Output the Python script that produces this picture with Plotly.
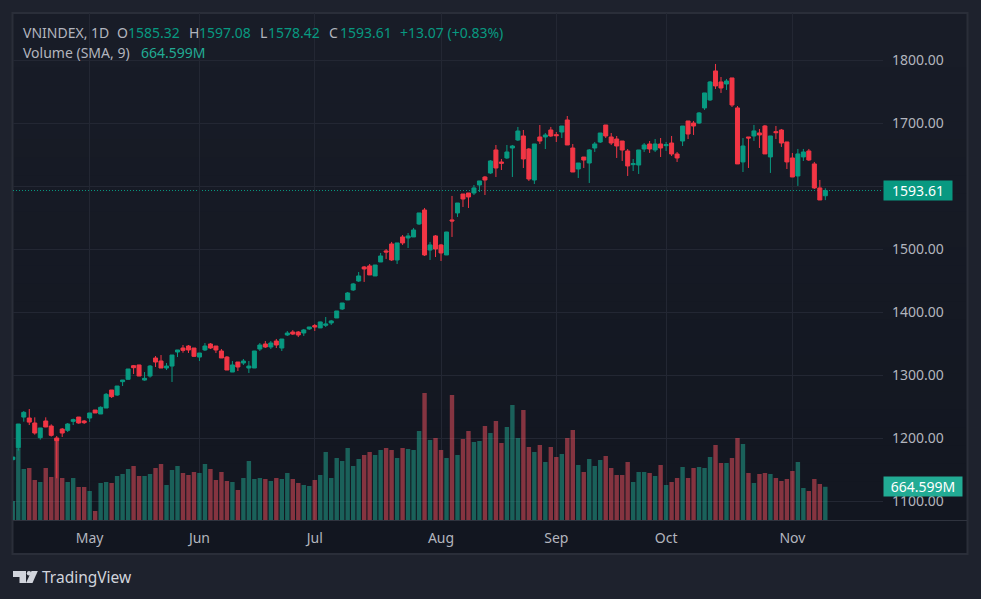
import plotly.graph_objects as go

W, H = 981, 599

opens = [1166.5,1185.5,1234,1232.5,1224.6,1201.3,1227.8,1219.8,1200.8,1215,
1213,1227.2,1234.1,1227.8,1232.5,1245.2,1238.9,1248.4,1277,1269,
1290.2,1293.9,1315.6,1316.7,1292.8,1299.2,1327.8,1323,1311.9,1315,
1337.3,1343.6,1346.8,1343.6,1329.3,1340.5,1350,1346.8,1338.9,1329.3,
1305.5,1321.4,1319.8,1311.9,1311.9,1342,1350,1345.2,1354.7,1343.6,
1364.3,1369,1369,1367.5,1373.9,1379.2,1375.5,1379.7,1383.4,1391.3,
1405.6,1419.9,1435.8,1450,1472.3,1473.9,1458,1480.2,1497.7,1508.8,
1483.4,1519.9,1518.3,1519.9,1540.5,1562.7,1499.2,1521.5,1507.2,1491.3,
1546.9,1558,1588.1,1589.7,1589.7,1602.4,1615.1,1621.4,1658,1638.9,
1645.3,1661.1,1673.8,1680.2,1659.5,1610.3,1678.6,1678.6,1689.7,1682.3,
1686.5,1705.6,1661.1,1627.8,1646.8,1637.3,1661.1,1670.6,1697.6,1678.6,
1675.4,1672.2,1656.4,1634.7,1634.1,1659.5,1667.5,1658,1667.5,1664.8,
1669,1651.6,1672.2,1704,1700.8,1700.8,1724.7,1737.4,1783.4,1765.9,
1762.7,1772.3,1724.7,1639,1678.6,1680.2,1685,1696.1,1646.9,1687.1,
1689.7,1670.7,1645.3,1616.7,1646.9,1656.4,1635.8,1597.7,1585.32]

highs = [1171,1223,1243.6,1246.8,1233.6,1216.7,1233.6,1222.5,1204,1216.7,
1224.6,1231.5,1234.1,1229.4,1240.5,1245.2,1251,1272.2,1277,1283.3,
1292.8,1310.3,1316.7,1317,1305.5,1316.7,1330.9,1332.5,1319.8,1332.5,
1340.5,1348.4,1348.4,1343.6,1335.7,1351.6,1351.6,1346.8,1342,1330.9,
1323,1321.4,1326.2,1323,1339,1351.6,1354.7,1354.7,1358,1358,
1370.6,1372,1370.6,1373.9,1377,1381.8,1385.5,1392.9,1388.2,1402.4,
1415.1,1432.6,1446.9,1464.3,1473.9,1477,1475.5,1494.5,1500.8,1512,
1510.4,1523,1526.2,1534.2,1558,1565.9,1512,1523,1508.8,1528,
1585,1573.8,1588.1,1589.7,1602.4,1608.8,1616.7,1642,1665.9,1643.7,
1665.9,1665.9,1694.5,1689.7,1661.1,1667.5,1697.6,1684.9,1694.5,1686.5,
1696,1711.9,1667.5,1637.3,1646.8,1659.5,1670.6,1684.9,1697.6,1684.9,
1680.2,1672.2,1659.5,1643.7,1658,1669,1672.2,1675.4,1677,1670.6,
1680.2,1654.8,1696,1704,1704,1718.3,1748.5,1767.5,1794.5,1773.8,
1770.7,1772.3,1727.8,1677,1678.6,1697.7,1691.3,1697.7,1680.2,1696.1,
1691.3,1670.7,1653.2,1659.6,1659.6,1659.6,1639,1610.4,1597.08]

lows = [1165,1180.7,1226.7,1221.4,1206.1,1198.2,1218,1203,1136.8,1202.4,
1210.3,1221.4,1223.5,1223,1226.2,1240.5,1238.9,1248.4,1264.3,1267.5,
1283.3,1293.4,1302.4,1299,1291.8,1296.6,1313.5,1311.9,1308.7,1289.7,
1329.3,1336.2,1335.7,1329.3,1323,1338.9,1342,1335.7,1327.8,1308.7,
1305.5,1307.1,1316.7,1304,1311.9,1338.9,1343.6,1342,1343.6,1338.9,
1362.7,1364.3,1361,1362.8,1372.3,1370.7,1375.5,1377,1380.2,1391.3,
1404,1419.9,1434.2,1448.5,1448.5,1459.6,1458,1480.2,1485,1481.8,
1477,1507.2,1502.4,1519.9,1538.9,1489.7,1483.4,1488.1,1481.8,1491.3,
1519.9,1551.6,1567.5,1565.9,1586.5,1591.3,1586.5,1619.9,1615.1,1626.2,
1643.7,1615.1,1672.2,1629.4,1608.8,1604,1667.5,1659.5,1678.6,1670.6,
1677,1665.9,1623,1613.5,1629.4,1605.6,1654.8,1669,1677,1665.9,
1645.3,1640.5,1616.7,1624.6,1619.9,1654.8,1653.2,1654.8,1646.8,1656.4,
1648.4,1638.9,1664.3,1675.4,1681.8,1699.2,1721.5,1735.8,1754.8,1748.5,
1753.2,1726.2,1635.8,1623,1629.4,1672.3,1661.2,1651.7,1621.5,1675.4,
1662.8,1627.8,1615.1,1600.9,1640.5,1640.5,1596.1,1578.6,1578.42]

closes = [1170.5,1223,1241.5,1226,1208.7,1216.7,1218.3,1205,1196.6,1208.7,
1223,1229.9,1224.6,1225.1,1240.5,1240.5,1249.5,1270.1,1266.4,1283.3,
1292.8,1310.3,1312.4,1299.2,1295.5,1315,1321.4,1311.9,1315,1332.5,
1340.5,1339.9,1340.5,1330.4,1335.7,1346.8,1343.6,1340.5,1327.8,1308.7,
1316.7,1313.5,1323,1315,1338.9,1348.4,1345.2,1351.6,1348.4,1357.9,
1367.4,1365.8,1364.3,1372.3,1377,1377,1385,1381.8,1386.6,1402.4,
1415.1,1431,1445.3,1458,1469.1,1459.6,1475.4,1489.7,1496,1483.4,
1510.4,1510.4,1521.5,1531,1558,1491.3,1507.2,1500.8,1494.5,1527.8,
1545.3,1573.8,1580.2,1583.4,1597.7,1608.8,1610.3,1640.5,1629.4,1636.8,
1654.8,1664.3,1688.1,1643.7,1611.9,1667.5,1672.2,1681.8,1680.2,1680.7,
1696,1665.9,1623,1637.3,1642,1658,1667.5,1684.9,1680.2,1669,
1664.3,1657.9,1632.6,1636.3,1658,1665.9,1659.5,1667.5,1661.1,1666.4,
1651.6,1645.3,1696,1683.3,1696,1716.7,1748.5,1765.9,1759.6,1756.4,
1767.5,1729.4,1635.8,1664.3,1677,1688.2,1681.8,1651.7,1680.2,1685.5,
1669,1639,1615.1,1651.7,1654.8,1642.1,1597.7,1578.6,1593.61]

volumes_m = [380,1433,1020,1040,800,760,1040,860,1640,840,
760,840,660,660,580,180,740,760,740,880,
920,1020,1080,880,880,920,1040,1120,700,1000,
1080,940,900,960,940,1120,1020,800,960,780,
760,600,840,1180,820,840,820,780,840,820,
940,820,740,700,680,800,900,1360,840,1240,
1180,1440,1080,1220,1300,1360,1300,1400,1440,1400,
1240,1440,1420,1400,1780,2540,1600,1640,1400,1240,
2500,1300,1620,1780,1560,1580,1880,1740,1980,1540,
1860,2300,1640,2200,1460,1360,1500,1160,1460,1260,
1320,1640,1800,1100,960,1220,1080,1200,1280,1040,
900,900,1160,760,960,960,940,880,1100,700,
760,840,1060,840,1040,1060,1040,1260,1500,1140,
1140,1240,1640,1520,940,740,920,940,920,840,
780,820,980,1160,640,580,820,720,664.6]

month_labels = ["May", "Jun", "Jul", "Aug", "Sep", "Oct", "Nov"]
month_positions = [14, 34, 55, 78, 99, 119, 142]
price_ticks = [1100, 1200, 1300, 1400, 1500, 1600, 1700, 1800]
price_tick_labels = ["1100.00", "1200.00", "1300.00", "1400.00", "1500.00", "", "1700.00", "1800.00"]
sessions = list(range(len(closes)))

UP, DOWN = "#089981", "#F23645"
UP_V, DOWN_V = "rgba(34,171,148,0.5)", "rgba(247,82,95,0.5)"
GREY = "#b2b5be"
FONT = "Noto Sans"

def fx(p): return p / W
def fy(p): return 1 - p / H

# pixel anchors of the chart pane
L, R, T, B = 13.0, 883.0, 13.0, 520.0
X0, DX = 12.8, 5.49          # first session position and spacing
Y1800, PX100 = 60.5, 63.0    # price scale
xr = [(L - X0) / DX, (R - X0) / DX]
yr = [1800 - (B - Y1800) / PX100 * 100, 1800 + (Y1800 - T) / PX100 * 100]
vr = [0, (B - T) * 20]

fig = go.Figure()
fig.add_trace(go.Bar(
    x=sessions, y=volumes_m, yaxis="y",
    marker=dict(color=[UP_V if c >= o else DOWN_V for o, c in zip(opens, closes)], line_width=0),
    hoverinfo="skip", showlegend=False))
fig.add_trace(go.Candlestick(
    x=sessions, open=opens, high=highs, low=lows, close=closes, yaxis="y2",
    increasing=dict(line=dict(color=UP, width=1), fillcolor=UP),
    decreasing=dict(line=dict(color=DOWN, width=1), fillcolor=DOWN),
    whiskerwidth=0, hoverinfo="skip", showlegend=False))

shapes = []
# pane background gradient
bands = 30
top_c, bot_c = (24, 28, 39), (18, 22, 32)
for k in range(bands):
    t = k / (bands - 1)
    col = tuple(round(a + (b - a) * t) for a, b in zip(top_c, bot_c))
    shapes.append(dict(type="rect", xref="paper", yref="paper", layer="below", line_width=0,
                       x0=fx(13), x1=fx(967),
                       y0=fy(13 + (554 - 13) * k / bands), y1=fy(13 + (554 - 13) * (k + 1) / bands + 0.5),
                       fillcolor="rgb(%d,%d,%d)" % col))
# frame and axis separator
shapes.append(dict(type="rect", xref="paper", yref="paper", layer="below",
                   x0=fx(12.5), x1=fx(967.5), y0=fy(13), y1=fy(554),
                   line=dict(color="#2a2e39", width=2), fillcolor="rgba(0,0,0,0)"))
shapes.append(dict(type="line", xref="paper", yref="paper", layer="below",
                   x0=fx(13), x1=fx(967), y0=fy(520.5), y1=fy(520.5),
                   line=dict(color="#2f333e", width=1)))
# last price dotted line
shapes.append(dict(type="line", xref="paper", yref="y2", layer="below",
                   x0=fx(L), x1=fx(R), y0=closes[-1], y1=closes[-1],
                   line=dict(color=UP, width=1, dash="1px,2px")))
# TradingView logo
def path(pts):
    return "M" + " L".join("%.5f,%.5f" % (fx(a), fy(b)) for a, b in pts) + " Z"
logo = "#d1d4dc"
shapes.append(dict(type="path", xref="paper", yref="paper", layer="above", line_width=0, fillcolor=logo,
                   path=path([(13, 571), (26, 571), (26, 583), (19.5, 583), (19.5, 577), (13, 577)])))
shapes.append(dict(type="circle", xref="paper", yref="paper", layer="above", line_width=0, fillcolor=logo,
                   x0=fx(26.8), x1=fx(31.2), y0=fy(571), y1=fy(575.4)))
shapes.append(dict(type="path", xref="paper", yref="paper", layer="above", line_width=0, fillcolor=logo,
                   path=path([(31.5, 571), (37.8, 571), (32.5, 583), (26, 583)])))

ann = []
def txt(s, x, y, color=GREY, size=14, anchor="left"):
    ann.append(dict(text=s, x=fx(x - 2), y=fy(y), xref="paper", yref="paper", xanchor=anchor, yanchor="middle",
                    showarrow=False, font=dict(family=FONT, size=size, color=color)))

txt("VNINDEX, 1D", 23, 32)
txt("O", 117, 32); txt("1585.32", 128, 32, UP)
txt("H", 189, 32); txt("1597.08", 199, 32, UP)
txt("L", 260, 32); txt("1578.42", 268, 32, UP)
txt("C", 329, 32); txt("1593.61", 340, 32, UP)
txt("+13.07 (+0.83%)", 400, 32, UP)
txt("Volume (SMA, 9)", 23, 53)
txt("664.599M", 141, 53, "#22ab94")
txt("TradingView", 42, 577, "#d1d4dc", 15.5)

ann.append(dict(text="1593.61", x=fx(R), y=closes[-1], xref="paper", yref="y2", xanchor="left", yanchor="middle",
                width=68, height=19, align="center", valign="middle", bgcolor=UP, showarrow=False, borderpad=0,
                font=dict(family=FONT, size=14, color="#ffffff")))
ann.append(dict(text="664.599M", x=fx(R), y=volumes_m[-1], xref="paper", yref="y", xanchor="left", yanchor="middle",
                width=78, height=19, align="center", valign="middle", bgcolor="#22ab94", showarrow=False, borderpad=0,
                font=dict(family=FONT, size=14, color="#ffffff")))

GRID = "#232733"
fig.update_layout(
    width=W, height=H, autosize=False,
    margin=dict(l=0, r=0, t=0, b=0),
    paper_bgcolor="#1e222d", plot_bgcolor="rgba(0,0,0,0)",
    bargap=0.2, boxgap=0.27, boxgroupgap=0, showlegend=False,
    shapes=shapes, annotations=ann,
    xaxis=dict(domain=[fx(L), fx(R)], range=xr, rangeslider=dict(visible=False),
               tickmode="array", tickvals=month_positions, ticktext=month_labels,
               showgrid=True, gridcolor=GRID, gridwidth=1, zeroline=False, showline=False,
               ticks="", ticklabelstandoff=8,
               tickfont=dict(family=FONT, size=14, color=GREY)),
    yaxis=dict(domain=[1 - B / H, 1 - T / H], range=vr, visible=False, fixedrange=True),
    yaxis2=dict(domain=[1 - B / H, 1 - T / H], range=yr, overlaying="y", side="right", anchor="x",
                tickmode="array", tickvals=price_ticks, ticktext=price_tick_labels,
                showgrid=True, gridcolor=GRID, gridwidth=1, zeroline=False, showline=False,
                ticks="", ticklabelstandoff=8,
                tickfont=dict(family=FONT, size=14, color=GREY)),
)
fig.write_html("out.html", post_script="document.body.style.margin='0';document.body.style.overflow='hidden';",
               config=dict(displayModeBar=False, responsive=False))
